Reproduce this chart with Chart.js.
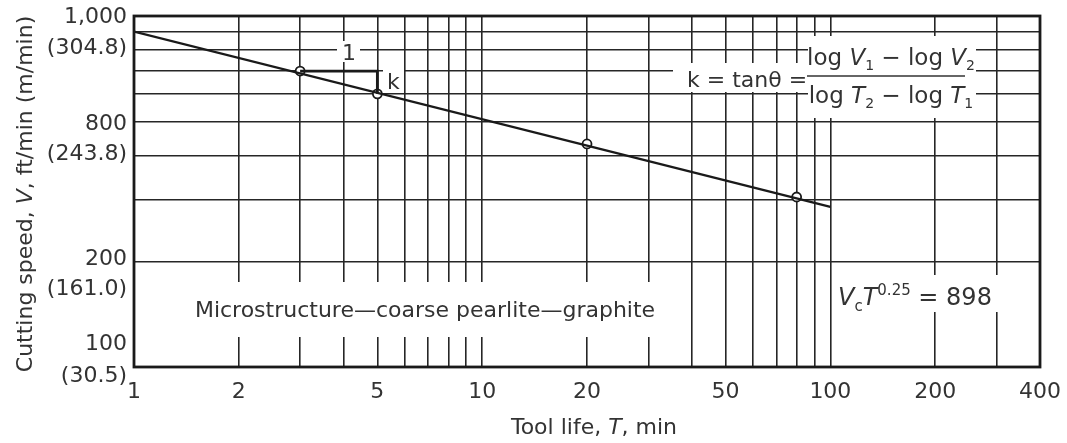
<!DOCTYPE html>
<html>
<head>
<meta charset="utf-8">
<script src="https://cdn.jsdelivr.net/npm/chart.js@4.4.0/dist/chart.umd.min.js"></script>
<style>
  html, body { margin: 0; padding: 0; background: #fff; }
</style>
</head>
<body>
<canvas id="myChart" width="1067" height="443"></canvas>
<script>
// Tool life T (min) against cutting speed V (ft/min), log-log paper
var lineT = [1, 100];
var lineV = [903, 286];
var pointT = [3, 5, 20, 80];
var pointV = [697, 600, 432, 305];
// slope triangle drawn on the line (1 across, k down)
var triT = [3, 5, 5];
var triV = [697, 697, 600];

var xGrid = [1, 2, 3, 4, 5, 6, 7, 8, 9, 10, 20, 30, 40, 50, 60, 70, 80, 90, 100, 200, 300, 400];
var xTickLabels = [1, 2, 5, 10, 20, 50, 100, 200, 400];
var yGrid = [100, 200, 300, 400, 500, 600, 700, 800, 900, 1000];
// the printed y labels don't sit on their own gridlines, so they get their own anchors
var yTickText = ['1,000', '(304.8)', '800', '(243.8)', '200', '(161.0)', '100', '(30.5)'];
var yTickAt = [990, 810, 490, 405, 203, 167, 116, 94];

var FAMILY = '"DejaVu Sans", sans-serif';
var INK = '#333';
var LINE = '#1a1a1a';

function fnt(size, italic) {
  return (italic ? 'italic ' : '') + size + 'px ' + FAMILY;
}

// parts: [text, size, italic, dy]
function runWidth(ctx, parts) {
  var w = 0;
  parts.forEach(function (p) {
    ctx.font = fnt(p[1], p[2]);
    w += ctx.measureText(p[0]).width;
  });
  return w;
}
function drawRun(ctx, x, y, parts) {
  parts.forEach(function (p) {
    ctx.font = fnt(p[1], p[2]);
    ctx.fillText(p[0], x, y + (p[3] || 0));
    x += ctx.measureText(p[0]).width;
  });
  return x;
}

function pairs(xs, ys) {
  return xs.map(function (x, i) { return { x: x, y: ys[i] }; });
}

// white patches where the printed notes cut the grid
var blanks = [
  [190, 282, 470, 55],
  [835, 275, 165, 37],
  [337, 41, 23, 21],
  [383, 64, 21, 28],
  [673, 63, 135, 29],
  [808, 36, 168, 82]
];

var paper = {
  id: 'paper',
  beforeDatasetsDraw: function (chart) {
    var ctx = chart.ctx;
    ctx.save();
    ctx.fillStyle = '#fff';
    blanks.forEach(function (b) { ctx.fillRect(b[0], b[1], b[2], b[3]); });
    ctx.restore();
  },
  afterDraw: function (chart) {
    var ctx = chart.ctx;
    var a = chart.chartArea;
    var ys = chart.scales.y;
    ctx.save();

    // frame
    ctx.strokeStyle = LINE;
    ctx.lineWidth = 2.8;
    ctx.strokeRect(a.left, a.top, a.right - a.left, a.bottom - a.top);

    ctx.fillStyle = INK;
    ctx.textBaseline = 'middle';
    ctx.textAlign = 'right';
    ctx.font = fnt(22);
    yTickText.forEach(function (t, i) {
      ctx.fillText(t, 127, ys.getPixelForValue(yTickAt[i]));
    });

    ctx.textBaseline = 'alphabetic';
    ctx.textAlign = 'left';

    // axis titles
    var xt = [['Tool life, ', 22], ['T', 22, true], [', min', 22]];
    drawRun(ctx, 594 - runWidth(ctx, xt) / 2, 434, xt);

    var yt = [['Cutting speed, ', 22], ['V', 22, true], [', ft/min (m/min)', 22]];
    ctx.save();
    ctx.translate(32, 194);
    ctx.rotate(-Math.PI / 2);
    drawRun(ctx, -runWidth(ctx, yt) / 2, 0, yt);
    ctx.restore();

    // notes
    var micro = [['Microstructure\u2014coarse pearlite\u2014graphite', 22]];
    drawRun(ctx, 425 - runWidth(ctx, micro) / 2, 317, micro);

    drawRun(ctx, 838, 305, [['V', 24, true], ['c', 15, false, 6], ['T', 24, true], ['0.25', 15, false, -10], [' = 898', 24]]);

    drawRun(ctx, 342, 60, [['1', 22]]);
    drawRun(ctx, 387, 89, [['k', 22]]);

    drawRun(ctx, 687, 87, [['k = tan\u03b8 =', 22]]);
    var num = [['log ', 23], ['V', 23, true], ['1', 14, false, 5], [' \u2212 log ', 23], ['V', 23, true], ['2', 14, false, 5]];
    var den = [['log ', 23], ['T', 23, true], ['2', 14, false, 5], [' \u2212 log ', 23], ['T', 23, true], ['1', 14, false, 5]];
    drawRun(ctx, 891 - runWidth(ctx, num) / 2, 65, num);
    drawRun(ctx, 891 - runWidth(ctx, den) / 2, 103, den);
    ctx.strokeStyle = INK;
    ctx.lineWidth = 1.5;
    ctx.beginPath();
    ctx.moveTo(807, 76);
    ctx.lineTo(965, 76);
    ctx.stroke();

    ctx.restore();
  }
};

var gridOpts = { color: '#262626', lineWidth: 1.6, drawTicks: false };

var ctx = document.getElementById('myChart').getContext('2d');
var myChart = new Chart(ctx, {
  type: 'scatter',
  data: {
    datasets: [{
      data: pairs(lineT, lineV),
      showLine: true,
      borderColor: LINE,
      borderWidth: 2.4,
      pointRadius: 0
    }, {
      data: pairs(triT, triV),
      showLine: true,
      borderColor: LINE,
      borderWidth: 2.8,
      pointRadius: 0
    }, {
      data: pairs(pointT, pointV),
      showLine: false,
      pointRadius: 4.5,
      pointBackgroundColor: '#fff',
      pointBorderColor: LINE,
      pointBorderWidth: 1.8
    }]
  },
  options: {
    responsive: false,
    animation: false,
    layout: { padding: { top: 16, right: 27, left: 0, bottom: 0 } },
    plugins: { legend: { display: false }, tooltip: { enabled: false } },
    scales: {
      x: {
        type: 'logarithmic',
        min: 1,
        max: 400,
        afterBuildTicks: function (s) { s.ticks = xGrid.map(function (v) { return { value: v }; }); },
        afterFit: function (s) { s.height = 76; s.paddingLeft = 0; s.paddingRight = 0; },
        grid: gridOpts,
        border: { display: false },
        ticks: {
          autoSkip: false,
          maxRotation: 0,
          padding: 12,
          color: INK,
          font: { family: FAMILY, size: 22 },
          callback: function (v) { return xTickLabels.indexOf(v) >= 0 ? String(v) : ''; }
        }
      },
      y: {
        type: 'logarithmic',
        min: 100,
        max: 1000,
        afterBuildTicks: function (s) { s.ticks = yGrid.map(function (v) { return { value: v }; }); },
        afterFit: function (s) { s.width = 134; s.paddingTop = 0; s.paddingBottom = 0; },
        grid: gridOpts,
        border: { display: false },
        ticks: { display: false }
      }
    }
  },
  plugins: [paper]
});
</script>
</body>
</html>
